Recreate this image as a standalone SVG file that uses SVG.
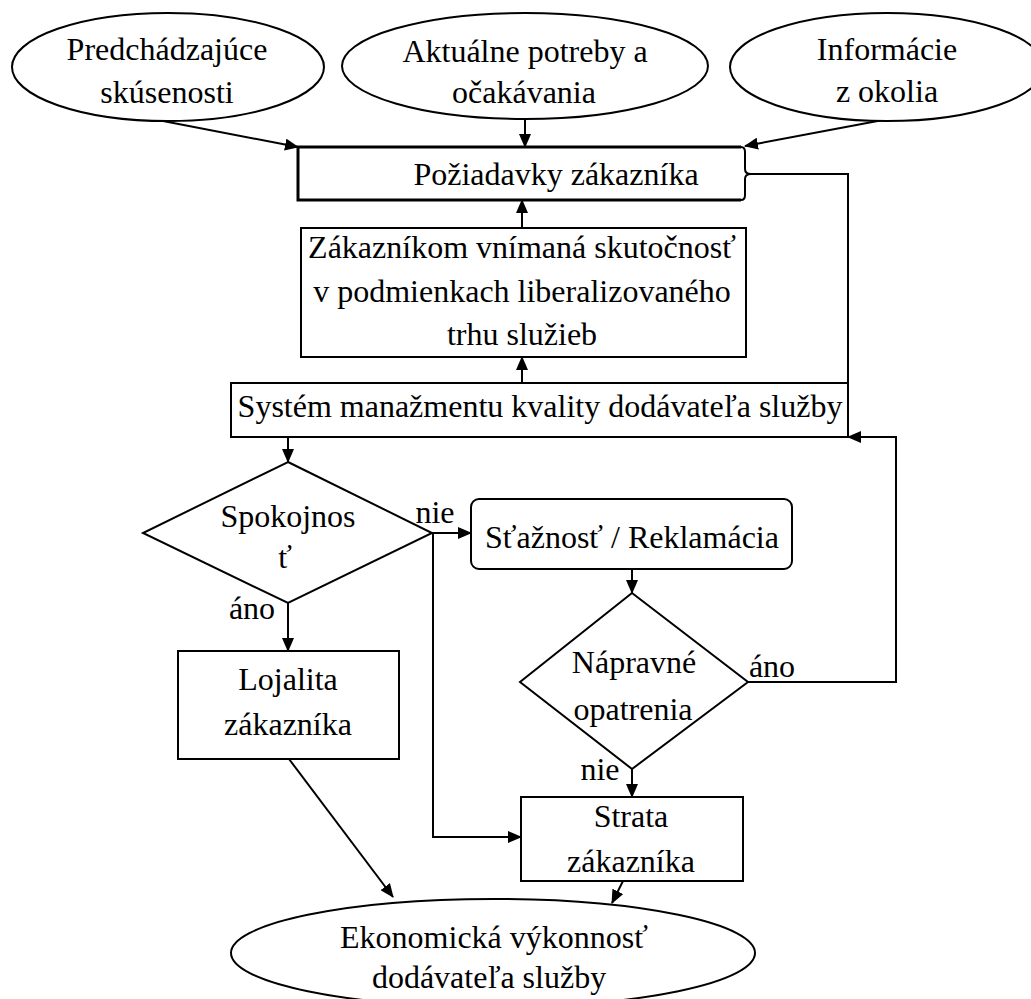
<svg xmlns="http://www.w3.org/2000/svg" width="1031" height="999" viewBox="0 0 1031 999">
<defs>
<style>
.n{fill:#fff;stroke:#000;stroke-width:2}
.t{font-family:"Liberation Serif","Times New Roman",serif;font-size:32px;fill:#000;text-anchor:middle}
.c{fill:none;stroke:#000;stroke-width:2}
</style>
<marker id="a" markerUnits="userSpaceOnUse" markerWidth="14" markerHeight="12" refX="13" refY="6" orient="auto">
<path d="M0,0 L14,6 L0,12 z" fill="#000"/>
</marker>
</defs>
<rect width="1031" height="999" fill="#fff"/>
<g id="connectors">
<line class="c" x1="163" y1="121" x2="298" y2="147" marker-end="url(#a)"/>
<line class="c" x1="525" y1="119" x2="525" y2="147" marker-end="url(#a)"/>
<line class="c" x1="883" y1="120" x2="745" y2="146" marker-end="url(#a)"/>
<line class="c" x1="522" y1="228" x2="522" y2="200" marker-end="url(#a)"/>
<line class="c" x1="522" y1="383" x2="522" y2="357" marker-end="url(#a)"/>
<polyline class="c" points="848,383 848,174 751,174"/>
<line class="c" x1="288" y1="437" x2="288" y2="462" marker-end="url(#a)"/>
<line class="c" x1="432" y1="533" x2="471" y2="533" marker-end="url(#a)"/>
<polyline class="c" points="433,533 433,837 521,837" marker-end="url(#a)"/>
<line class="c" x1="288" y1="603" x2="288" y2="651" marker-end="url(#a)"/>
<line class="c" x1="632" y1="569" x2="632" y2="593" marker-end="url(#a)"/>
<polyline class="c" points="748,682 896,682 896,437 848,437" marker-end="url(#a)"/>
<line class="c" x1="632" y1="769" x2="632" y2="797" marker-end="url(#a)"/>
<line class="c" x1="289" y1="759" x2="393" y2="897" marker-end="url(#a)"/>
<line class="c" x1="623" y1="881" x2="612" y2="903" marker-end="url(#a)"/>
</g>
<g id="n-predchadzajuce">
<ellipse class="n" cx="168" cy="67" rx="156" ry="54"/>
<text class="t" x="167" y="60">Predchádzajúce</text>
<text class="t" x="167" y="103">skúsenosti</text>
</g>
<g id="n-aktualne">
<ellipse class="n" cx="525" cy="66" rx="183" ry="53"/>
<text class="t" x="525" y="62">Aktuálne potreby a</text>
<text class="t" x="524" y="103">očakávania</text>
</g>
<g id="n-informacie">
<ellipse class="n" cx="887" cy="67" rx="157" ry="54"/>
<text class="t" x="887" y="60">Informácie</text>
<text class="t" x="887" y="102">z okolia</text>
</g>
<g id="n-poziadavky">
<path d="M741,147 L298,147 L298,200 L741,200" fill="#fff" stroke="#000" stroke-width="3"/>
<path d="M741,147 Q745,147 745,152 L745,169 Q745,174 751,174 Q745,174 745,179 L745,195 Q745,200 741,200" fill="none" stroke="#000" stroke-width="2"/>
<text class="t" x="556" y="185">Požiadavky zákazníka</text>
</g>
<g id="n-zakaznikom">
<rect class="n" x="301" y="228" width="445" height="129"/>
<text class="t" x="522" y="258">Zákazníkom vnímaná skutočnosť</text>
<text class="t" x="522" y="302">v podmienkach liberalizovaného</text>
<text class="t" x="522" y="345">trhu služieb</text>
</g>
<g id="n-system">
<rect class="n" x="231" y="383" width="617" height="54"/>
<text class="t" x="540" y="417">Systém manažmentu kvality dodávateľa služby</text>
</g>
<g id="n-spokojnost">
<polygon class="n" points="288,462 432,533 288,603 143,533"/>
<text class="t" x="288" y="527">Spokojnos</text>
<text class="t" x="285" y="568">ť</text>
</g>
<text class="t" x="435" y="523">nie</text>
<text class="t" x="252" y="619">áno</text>
<g id="n-staznost">
<rect class="n" x="471" y="499" width="321" height="70" rx="8"/>
<text class="t" x="632" y="548">Sťažnosť / Reklamácia</text>
</g>
<g id="n-napravne">
<polygon class="n" points="632,593 748,682 632,769 520,682"/>
<text class="t" x="634" y="673">Nápravné</text>
<text class="t" x="633" y="720">opatrenia</text>
</g>
<text class="t" x="772" y="677">áno</text>
<text class="t" x="600" y="780">nie</text>
<g id="n-lojalita">
<rect class="n" x="178" y="651" width="221" height="108"/>
<text class="t" x="288" y="690">Lojalita</text>
<text class="t" x="288" y="735">zákazníka</text>
</g>
<g id="n-strata">
<rect class="n" x="521" y="797" width="222" height="84"/>
<text class="t" x="631" y="827">Strata</text>
<text class="t" x="631" y="872">zákazníka</text>
</g>
<g id="n-ekonomicka">
<ellipse class="n" cx="493" cy="953" rx="262" ry="54"/>
<text class="t" x="494" y="948">Ekonomická výkonnosť</text>
<text class="t" x="489" y="988">dodávateľa služby</text>
</g>
</svg>
